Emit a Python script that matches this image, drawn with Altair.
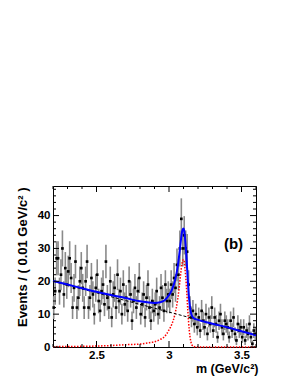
import altair as alt
import pandas as pd
import numpy as np

# ---- data ----
bin_lo = 2.2
bin_w = 0.01
counts = [
    12, 17, 27, 27, 17, 22, 30, 16, 24, 19,
    23, 27, 21, 12, 18, 26, 12, 15, 20, 24,
    18, 12, 20, 26, 12, 15, 21, 16, 10, 18,
    22, 14, 11, 17, 19, 13, 26, 15, 12, 20,
    9, 16, 18, 12, 22, 14, 17, 10, 19, 13,
    15, 11, 20, 16, 8, 14, 18, 12, 17, 21,
    10, 13, 16, 9, 15, 19, 12, 8, 14, 11,
    13, 17, 10, 12, 18, 15, 11, 19, 14, 16,
    14, 19, 16, 21, 18, 25, 22, 30, 39, 30,
    34, 30, 29, 19, 12, 9, 11, 7, 10, 6,
    9, 5, 11, 8, 6, 10, 4, 9, 7, 12,
    5, 9, 7, 3, 8, 10, 6, 4, 8, 7,
    6, 3, 8, 5, 9, 4, 2, 7, 5, 6,
    3, 6, 2, 5, 4, 7, 3, 1, 5, 4,
]

curve_x = [2.2, 2.3, 2.4, 2.5, 2.6, 2.7, 2.8, 2.85, 2.9, 2.94, 2.97, 3.0, 3.02,
           3.04, 3.06, 3.07, 3.08, 3.09, 3.10, 3.105, 3.11, 3.12, 3.13, 3.14,
           3.15, 3.16, 3.17, 3.19, 3.3, 3.4, 3.5, 3.6]
total_y = [20.1, 19.0, 17.9, 16.8, 15.8, 14.9, 13.9, 13.6, 13.4, 13.6, 14.2, 15.8,
           17.4, 20.0, 24.4, 27.8, 31.7, 35.1, 36.1, 35.4, 33.4, 27.7, 20.1, 14.0,
           10.7, 9.3, 8.8, 8.4, 7.1, 6.0, 4.8, 3.6]
signal_y = [0.1, 0.15, 0.2, 0.3, 0.45, 0.7, 0.9, 1.2, 1.6, 2.3, 3.2, 5.2, 7.0,
            9.8, 14.5, 18.0, 22.0, 25.5, 26.6, 26.0, 24.0, 18.5, 11.0, 5.0,
            1.8, 0.5, 0.15, 0.02, 0.0, 0.0, 0.0, 0.0]
bkg_x = [2.2, 3.6]
bkg_y = [20.0, 3.6]

x_major = [2.5, 3.0, 3.5]
x_minor = [2.2, 2.3, 2.4, 2.6, 2.7, 2.8, 2.9, 3.1, 3.2, 3.3, 3.4, 3.6]
y_major = [0, 10, 20, 30, 40]
y_minor = [2, 4, 6, 8, 12, 14, 16, 18, 22, 24, 26, 28, 32, 34, 36, 38, 42, 44, 46, 48]

label_text = ["(b)"]
label_x = [3.445]
label_y = [31.3]

# ---- tables ----
centers = [round(bin_lo + bin_w * (i + 0.5), 4) for i in range(len(counts))]
pts = pd.DataFrame({"m": centers, "n": counts})
pts["lo"] = pts["n"] - np.sqrt(pts["n"])
pts["hi"] = pts["n"] + np.sqrt(pts["n"])
curves = pd.DataFrame({"m": curve_x, "tot": total_y, "sig": signal_y})
bkg = pd.DataFrame({"m": bkg_x, "b": bkg_y})

W, H = 203, 161
FONT = "Liberation Sans"

xs = alt.Scale(domain=[2.2, 3.6], nice=False, zero=False)
ys = alt.Scale(domain=[0, 49], nice=False, zero=False)

xaxis = alt.Axis(values=x_major, format="~g", title="m (GeV/c²)", domain=False,
                 ticks=False, tickSize=0, grid=False, labelPadding=2,
                 labelFontSize=11.5, labelFont=FONT, labelFontWeight="bold",
                 labelColor="black", titleFont=FONT, titleFontSize=12.5,
                 titleFontWeight="bold", titleColor="black", titleAnchor="end",
                 titleAlign="right", titleBaseline="alphabetic", titleX=205, titleY=25)
yaxis = alt.Axis(values=y_major, format="d", title="Events / ( 0.01 GeV/c² )",
                 domain=False, ticks=False, tickSize=0, grid=False, labelPadding=3,
                 labelFontSize=11.5, labelFont=FONT, labelFontWeight="bold",
                 labelColor="black", titleFont=FONT, titleFontSize=13,
                 titleFontWeight="bold", titleColor="black", titleAngle=270,
                 titleAlign="right", titleBaseline="middle", titleX=-31, titleY=1)

base = alt.Chart(pts)

errs = base.mark_rule(color="#8a8a8a", strokeWidth=1.6).encode(
    x=alt.X("m:Q", scale=xs, axis=xaxis),
    y=alt.Y("lo:Q", scale=ys, axis=yaxis),
    y2="hi:Q",
)
dots = base.mark_square(color="black", size=7, opacity=1).encode(
    x=alt.X("m:Q", scale=xs), y=alt.Y("n:Q", scale=ys)
)
sig = alt.Chart(curves).mark_line(color="#ff0000", strokeWidth=1.5,
                                  strokeDash=[1.5, 1.5], interpolate="monotone").encode(
    x=alt.X("m:Q", scale=xs), y=alt.Y("sig:Q", scale=ys)
)
bk = alt.Chart(bkg).mark_line(color="black", strokeWidth=1, strokeDash=[3, 2]).encode(
    x=alt.X("m:Q", scale=xs), y=alt.Y("b:Q", scale=ys)
)
tot = alt.Chart(curves).mark_line(color="#0000ff", strokeWidth=2,
                                  interpolate="monotone").encode(
    x=alt.X("m:Q", scale=xs), y=alt.Y("tot:Q", scale=ys)
)

def xticks(vals, length):
    d = pd.DataFrame({"v": vals})
    c = alt.Chart(d)
    bot = c.mark_rule(color="black", strokeWidth=1).encode(
        x=alt.X("v:Q", scale=xs), y=alt.value(H), y2=alt.value(H - length))
    top = c.mark_rule(color="black", strokeWidth=1).encode(
        x=alt.X("v:Q", scale=xs), y=alt.value(0), y2=alt.value(length))
    return [bot, top]

def yticks(vals, length):
    d = pd.DataFrame({"v": vals})
    c = alt.Chart(d)
    lft = c.mark_rule(color="black", strokeWidth=1).encode(
        y=alt.Y("v:Q", scale=ys), x=alt.value(0), x2=alt.value(length))
    rgt = c.mark_rule(color="black", strokeWidth=1).encode(
        y=alt.Y("v:Q", scale=ys), x=alt.value(W), x2=alt.value(W - length))
    return [lft, rgt]

tick_layers = xticks(x_major, 6) + xticks(x_minor, 3) + yticks(y_major, 6) + yticks(y_minor, 3)

lab = alt.Chart(pd.DataFrame({"t": label_text, "x": label_x, "y": label_y})).mark_text(
    font=FONT, fontSize=15, fontWeight="bold", color="black", align="center",
    baseline="middle").encode(
    x=alt.X("x:Q", scale=xs), y=alt.Y("y:Q", scale=ys), text="t:N")

chart = alt.layer(errs, dots, sig, bk, tot, lab, *tick_layers).properties(
    width=W, height=H,
    autosize=alt.AutoSizeParams(type="none"),
    padding={"left": 45, "top": 178, "right": 27, "bottom": 30},
    background="white",
).configure_view(stroke="black", strokeWidth=1)

chart.save("out.html", embed_options={"renderer": "svg", "actions": False})
